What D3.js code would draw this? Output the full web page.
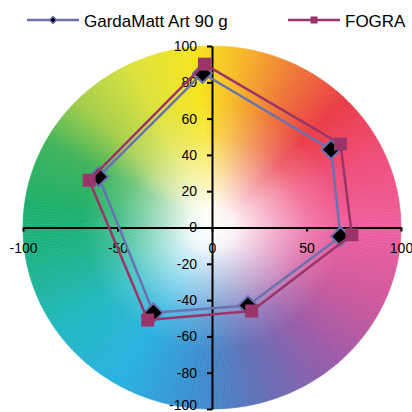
<!DOCTYPE html>
<html>
<head>
    <meta charset="utf-8">
    <title>a*b* gamut</title>
    <script src="https://d3js.org/d3.v7.min.js"></script>
    <style>
        body { margin: 0; background: #ffffff; }
        svg { display: block; font-family: "Liberation Sans", Arial, sans-serif; }
    </style>
</head>
<body>
    <svg width="412" height="412" id="mainsvg"></svg>
    <script>
        // data: a* / b* for Y, R, M, B, C, G (closed polygon)
        const seriesNames = ['GardaMatt Art 90 g', 'FOGRA'];
        const gardaA = [-5, 63, 68, 19, -31, -60];
        const gardaB = [85, 43, -5, -43, -47, 28];
        const fograA = [-4, 68, 74, 21, -34, -65];
        const fograB = [90, 46, -4, -46, -51, 26];
        const xTicks = [-100, -50, 0, 50, 100];
        const yTicks = [-100, -80, -60, -40, -20, 0, 20, 40, 60, 80, 100];

        const svg = d3.select('#mainsvg');
        const xScale = d3.scaleLinear().domain([-100, 100]).range([23, 401]);
        const yScale = d3.scaleLinear().domain([-100, 100]).range([409, 46]);

        const gardaColor = '#6a72b0';
        const fograColor = '#9b3468';

        // colour wheel (hue by angle, white toward centre)
        const hueStops = [
            [0, '#ef5f9e'], [25, '#ef4d78'], [45, '#ea3b45'], [65, '#f07d36'],
            [80, '#f6b52a'], [95, '#f8e41e'], [115, '#dde23c'], [135, '#a6cf4a'],
            [152, '#3fb35a'], [172, '#1eaf6a'], [192, '#1db48c'], [215, '#22b8c2'],
            [240, '#27b2e0'], [265, '#3d8ed0'], [285, '#6070b8'], [310, '#985aa8'],
            [335, '#cf589c'], [360, '#ef5f9e']
        ];
        const hueColor = d3.scaleLinear()
            .domain(hueStops.map(d => d[0]))
            .range(hueStops.map(d => d[1]))
            .interpolate(d3.interpolateRgb);

        const wedgeLine = d3.line().x(d => xScale(d[0])).y(d => yScale(d[1]));
        const wheel = svg.append('g').attr('id', 'wheel');
        wheel.selectAll('path').data(d3.range(0, 360, 1)).join('path')
            .attr('d', a => {
                const pts = [[0, 0]];
                for (let t = a; t <= a + 1.001; t += 0.5) {
                    const r = t * Math.PI / 180;
                    pts.push([100 * Math.cos(r), 100 * Math.sin(r)]);
                }
                return wedgeLine(pts) + 'Z';
            })
            .attr('fill', a => hueColor(a + 0.5))
            .attr('stroke', a => hueColor(a + 0.5))
            .attr('stroke-width', 0.6);

        const defs = svg.append('defs');
        const glow = defs.append('radialGradient').attr('id', 'whiteGlow');
        [[0, 1], [0.12, 0.92], [0.3, 0.55], [0.5, 0.18], [0.68, 0]].forEach(s => {
            glow.append('stop').attr('offset', s[0]).attr('stop-color', '#ffffff').attr('stop-opacity', s[1]);
        });
        svg.append('ellipse')
            .attr('cx', xScale(0)).attr('cy', yScale(0))
            .attr('rx', xScale(100) - xScale(0)).attr('ry', yScale(-100) - yScale(0))
            .attr('fill', 'url(#whiteGlow)');

        // axes crossing at the origin
        const fmt = d => String(d);
        const yAxis = d3.axisLeft(yScale).tickValues(yTicks).tickFormat(fmt)
            .tickSize(5).tickSizeOuter(0).tickPadding(10);
        const xAxis = d3.axisBottom(xScale).tickValues(xTicks).tickFormat(fmt)
            .tickSize(4).tickSizeOuter(0).tickPadding(12);

        const styleAxis = g => {
            g.selectAll('path, line').attr('stroke', '#000').attr('stroke-width', 2);
            g.selectAll('text').attr('fill', '#000').attr('font-size', 14)
                .attr('font-family', '"Liberation Sans", Arial, sans-serif');
        };
        svg.append('g').attr('transform', `translate(0, ${yScale(0)})`).call(xAxis).call(styleAxis);
        const yAxisGroup = svg.append('g').attr('transform', `translate(${xScale(0)}, 0)`).call(yAxis).call(styleAxis);
        // keep the bottom label inside the picture
        yAxisGroup.selectAll('.tick text').filter(d => d === -100).attr('dy', '0.05em');

        // series
        const series = [
            { name: seriesNames[0], a: gardaA, b: gardaB, color: gardaColor, shape: 'diamond' },
            { name: seriesNames[1], a: fograA, b: fograB, color: fograColor, shape: 'square' }
        ];
        const line = d3.line().x(d => xScale(d[0])).y(d => yScale(d[1]));
        const bigSquare = d3.symbol(d3.symbolSquare, 169)();
        const bigDiamond = d3.symbol(d3.symbolSquare, 180)();

        series.forEach(s => {
            const pts = s.a.map((v, i) => [v, s.b[i]]);
            svg.append('path')
                .attr('d', line(pts.concat([pts[0]])))
                .attr('fill', 'none')
                .attr('stroke', s.color)
                .attr('stroke-width', 2.5)
                .attr('stroke-linejoin', 'round');
            svg.append('g').selectAll('path').data(pts).join('path')
                .attr('d', s.shape === 'diamond' ? bigDiamond : bigSquare)
                .attr('transform', d => `translate(${xScale(d[0])}, ${yScale(d[1])})` + (s.shape === 'diamond' ? ' rotate(45)' : ''))
                .attr('fill', s.shape === 'diamond' ? '#000' : s.color)
                .attr('stroke', s.color)
                .attr('stroke-width', s.shape === 'diamond' ? 2 : 0);
        });

        // legend
        const legendX = [27, 288];
        const legend = svg.selectAll('.legend').data(series).join('g')
            .attr('class', 'legend')
            .attr('transform', (d, i) => `translate(${legendX[i]}, 20)`);
        legend.append('line')
            .attr('x1', 0).attr('x2', 52).attr('y1', 0).attr('y2', 0)
            .attr('stroke', d => d.color).attr('stroke-width', 2.5);
        legend.append('path')
            .attr('d', d => d.shape === 'diamond' ? d3.symbol(d3.symbolSquare, 24)() : d3.symbol(d3.symbolSquare, 50)())
            .attr('transform', d => 'translate(26, 0)' + (d.shape === 'diamond' ? ' rotate(45)' : ''))
            .attr('fill', d => d.shape === 'diamond' ? '#000' : d.color)
            .attr('stroke', d => d.color)
            .attr('stroke-width', d => d.shape === 'diamond' ? 1.5 : 0);
        legend.append('text')
            .attr('x', 57).attr('y', 6.5)
            .attr('font-size', 17)
            .attr('fill', '#000')
            .text(d => d.name);
    </script>
</body>
</html>
